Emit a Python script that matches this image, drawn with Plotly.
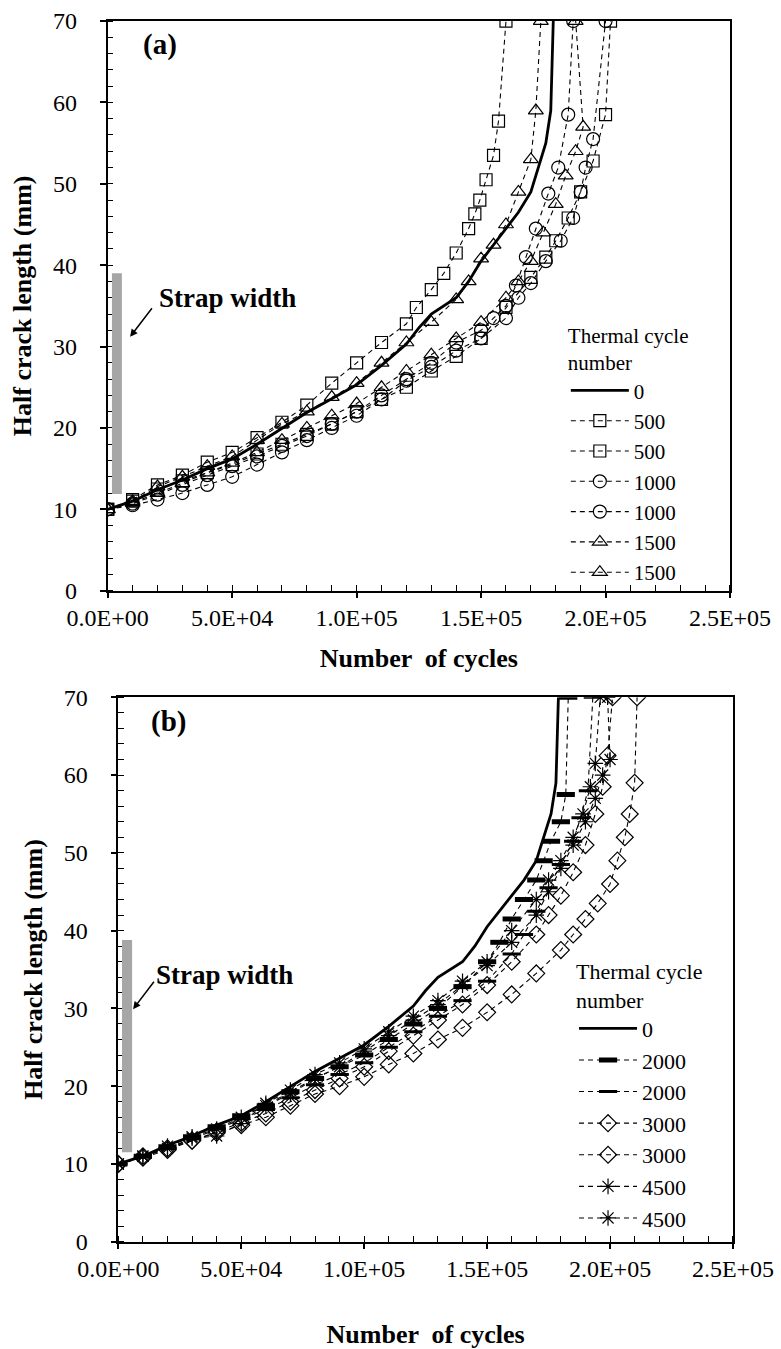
import plotly.graph_objects as go

# ---------------- data (x in cycles, y in mm) ----------------
x_ticks = [0, 50000, 100000, 150000, 200000, 250000]
x_tick_text = ["0.0E+00", "5.0E+04", "1.0E+05", "1.5E+05", "2.0E+05", "2.5E+05"]

ref0_x = [0, 10e3, 20e3, 30e3, 40e3, 50e3, 60e3, 70e3, 80e3, 90e3, 100e3, 110e3, 120e3, 125e3, 130e3, 140e3,
          145e3, 150e3, 155e3, 160e3, 165e3, 170e3, 173e3, 176e3, 178e3, 179e3]
ref0_y = [10, 11, 12.4, 13.6, 15, 16.2, 18, 20, 21.9, 23.6, 25.3, 27.7, 30.3, 32.3, 34, 36,
          38, 40.5, 42.5, 44.5, 46.5, 49, 52, 55, 59, 70]

a500a_x = [0, 10e3, 20e3, 30e3, 40e3, 50e3, 60e3, 70e3, 80e3, 90e3, 100e3, 110e3, 120e3, 124e3, 130e3, 135e3,
           140e3, 145e3, 147.5e3, 149.5e3, 152e3, 155e3, 157e3, 160e3]
a500a_y = [10, 11.2, 13, 14.2, 15.8, 17, 18.8, 20.7, 22.8, 25.5, 28, 30.5, 32.8, 34.8, 37, 39,
           41.5, 44.5, 46.3, 48, 50.5, 53.5, 57.7, 70]

a500b_x = [0, 10e3, 20e3, 30e3, 40e3, 50e3, 60e3, 70e3, 80e3, 90e3, 100e3, 110e3, 120e3, 130e3, 140e3, 150e3,
           160e3, 170e3, 176e3, 180e3, 185e3, 190e3, 195e3, 200e3, 202e3]
a500b_y = [10, 11, 12.5, 13.5, 14.5, 15.5, 16.8, 18, 19.2, 20.5, 22, 23.5, 25, 27, 28.8, 31,
           34.8, 38.5, 41, 43, 45.8, 49, 52.8, 58.5, 70]

a1000a_x = [0, 10e3, 20e3, 30e3, 40e3, 50e3, 60e3, 70e3, 80e3, 90e3, 100e3, 110e3, 120e3, 130e3, 140e3, 150e3,
            155e3, 160e3, 164e3, 168e3, 172e3, 177e3, 181e3, 185e3, 187e3]
a1000a_y = [10, 10.7, 11.8, 13, 14.2, 15.3, 16.5, 17.8, 19, 20.5, 22, 24, 26, 28, 30.5, 32,
            33.5, 35, 37.5, 41, 44.5, 48.8, 52, 58.5, 70]

a1000b_x = [0, 10e3, 20e3, 30e3, 40e3, 50e3, 60e3, 70e3, 80e3, 90e3, 100e3, 110e3, 120e3, 130e3, 140e3, 150e3,
            160e3, 165e3, 170e3, 176e3, 182e3, 187e3, 190e3, 192e3, 195e3, 200e3]
a1000b_y = [10, 10.5, 11.2, 12, 13, 14, 15.5, 17, 18.5, 20, 21.5, 23.5, 25.8, 27.5, 29.5, 31,
            33.5, 36, 37.8, 40.5, 43, 45.8, 49, 52, 55.5, 70]

a1500a_x = [0, 10e3, 20e3, 30e3, 40e3, 50e3, 60e3, 70e3, 80e3, 90e3, 100e3, 110e3, 120e3, 130e3, 140e3, 145e3,
            150e3, 155e3, 160e3, 165e3, 170e3, 172e3, 174e3]
a1500a_y = [10, 11, 12.8, 14, 15.3, 16.5, 18.5, 20.5, 22, 23.8, 25.5, 28, 30.5, 33, 35.8, 38,
            40.8, 42.5, 45, 49, 53, 59, 70]

a1500b_x = [0, 10e3, 20e3, 30e3, 40e3, 50e3, 60e3, 70e3, 80e3, 90e3, 100e3, 110e3, 120e3, 130e3, 140e3, 150e3,
            160e3, 165e3, 170e3, 175e3, 180e3, 184e3, 188e3, 191e3, 188e3]
a1500b_y = [10, 10.8, 12, 13.2, 14.5, 15.7, 17, 18.5, 20, 21.5, 23, 25, 27, 29, 31, 33,
            36, 38, 40.5, 44, 47.5, 51, 54, 57, 70]

b2000a_x = [0, 10e3, 20e3, 30e3, 40e3, 50e3, 60e3, 70e3, 80e3, 90e3, 100e3, 110e3, 120e3, 130e3, 140e3, 150e3,
            155e3, 160e3, 165e3, 170e3, 173e3, 176e3, 180e3, 182e3, 183e3]
b2000a_y = [10, 11, 12.2, 13.5, 14.8, 16.2, 17.5, 19.3, 21, 22.5, 24, 26, 28, 30, 32.8, 36,
            38.5, 41.5, 44, 46.5, 49, 51.5, 54, 57.5, 70]

b2000b_x = [0, 10e3, 20e3, 30e3, 40e3, 50e3, 60e3, 70e3, 80e3, 90e3, 100e3, 110e3, 120e3, 130e3, 140e3, 150e3,
            160e3, 165e3, 170e3, 175e3, 180e3, 185e3, 188e3, 191e3, 193e3]
b2000b_y = [10, 11, 12, 13.2, 14.5, 15.8, 17, 18.5, 20.2, 21.5, 23, 25, 27, 29, 31, 33.5,
            37, 39.5, 42.5, 45.5, 48.5, 51.5, 54.5, 58, 70]

b3000a_x = [0, 10e3, 20e3, 30e3, 40e3, 50e3, 60e3, 70e3, 80e3, 90e3, 100e3, 110e3, 120e3, 130e3, 140e3, 150e3,
            160e3, 170e3, 180e3, 185e3, 190e3, 195e3, 200e3, 203e3, 206e3, 208e3, 210e3, 211e3]
b3000a_y = [10, 11, 12, 13, 14, 15, 16, 17.5, 19, 20, 21.2, 22.8, 24.2, 26, 27.5, 29.5,
            31.8, 34.5, 37.5, 39.5, 41.5, 43.5, 46, 49, 52, 55, 59, 70]

b3000b_x = [0, 10e3, 20e3, 30e3, 40e3, 50e3, 60e3, 70e3, 80e3, 90e3, 100e3, 110e3, 120e3, 130e3, 140e3, 150e3,
            160e3, 170e3, 175e3, 180e3, 185e3, 190e3, 194e3, 197e3, 199e3, 201e3]
b3000b_y = [10, 10.8, 11.8, 13, 14.2, 15.3, 16.5, 18, 19.5, 21, 22.5, 24.5, 26.5, 28.5, 30.5, 33,
            36, 39.5, 42, 44.5, 47.5, 51, 55, 58.5, 62.5, 70]

b4500a_x = [0, 10e3, 20e3, 30e3, 40e3, 50e3, 60e3, 70e3, 80e3, 90e3, 100e3, 110e3, 120e3, 130e3, 140e3, 150e3,
            160e3, 170e3, 175e3, 180e3, 185e3, 189e3, 192e3, 194e3, 196e3]
b4500a_y = [10, 11, 12, 13.3, 13.6, 15.2, 17.8, 19.5, 21.5, 23, 24.8, 27, 29, 31, 33.5, 36,
            40, 44, 46.5, 49, 52, 55, 58.5, 61.5, 70]

b4500b_x = [0, 10e3, 20e3, 30e3, 40e3, 50e3, 60e3, 70e3, 80e3, 90e3, 100e3, 110e3, 120e3, 130e3, 140e3, 150e3,
            160e3, 170e3, 175e3, 180e3, 185e3, 190e3, 194e3, 197e3, 200e3, 199e3]
b4500b_y = [10, 11, 12.3, 13.5, 14.5, 16, 17.5, 19, 21, 22.5, 24.5, 26.5, 28.5, 30.5, 33, 35.5,
            38.5, 42, 45, 48, 51, 54, 57, 60, 62, 70]

FONT = "Times New Roman, Liberation Serif, Tinos, serif"
BLACK = "#000000"
DASH = "5px,4px"

fig = go.Figure()


def add_series(x, y, name, xa, ya, legend, solid=False, symbol=None, msize=11, mlw=1.2):
    if solid:
        fig.add_trace(go.Scatter(x=x, y=y, name=name, mode="lines", xaxis=xa, yaxis=ya, legend=legend,
                                 line=dict(color=BLACK, width=2.8)))
    else:
        fig.add_trace(go.Scatter(x=x, y=y, name=name, mode="lines+markers", xaxis=xa, yaxis=ya, legend=legend,
                                 line=dict(color=BLACK, width=1.1, dash=DASH),
                                 marker=dict(symbol=symbol, size=msize, color=BLACK,
                                             line=dict(color=BLACK, width=mlw))))


# panel (a)
add_series(ref0_x, ref0_y, "0", "x", "y", "legend", solid=True)
add_series(a500a_x, a500a_y, "500", "x", "y", "legend", symbol="square-open", msize=12)
add_series(a500b_x, a500b_y, "500", "x", "y", "legend", symbol="square-open", msize=12)
add_series(a1000a_x, a1000a_y, "1000", "x", "y", "legend", symbol="circle-open", msize=13)
add_series(a1000b_x, a1000b_y, "1000", "x", "y", "legend", symbol="circle-open", msize=13)
add_series(a1500a_x, a1500a_y, "1500", "x", "y", "legend", symbol="triangle-up-open", msize=13)
add_series(a1500b_x, a1500b_y, "1500", "x", "y", "legend", symbol="triangle-up-open", msize=13)

# panel (b)
add_series(ref0_x, ref0_y, "0", "x2", "y2", "legend2", solid=True)
add_series(b2000a_x, b2000a_y, "2000", "x2", "y2", "legend2", symbol="line-ew-open", msize=13, mlw=5)
add_series(b2000b_x, b2000b_y, "2000", "x2", "y2", "legend2", symbol="line-ew-open", msize=13, mlw=3)
add_series(b3000a_x, b3000a_y, "3000", "x2", "y2", "legend2", symbol="diamond-open", msize=13)
add_series(b3000b_x, b3000b_y, "3000", "x2", "y2", "legend2", symbol="diamond-open", msize=13)
add_series(b4500a_x, b4500a_y, "4500", "x2", "y2", "legend2", symbol="asterisk-open", msize=13)
add_series(b4500b_x, b4500b_y, "4500", "x2", "y2", "legend2", symbol="asterisk-open", msize=13)

tickfont = dict(family=FONT, size=24, color=BLACK)
titlefont = dict(family=FONT, size=26, color=BLACK)
legfont_a = dict(family=FONT, size=21, color=BLACK)
legfont_b = dict(family=FONT, size=22, color=BLACK)

xcommon = dict(range=[0, 250000], tickvals=x_ticks, ticktext=x_tick_text, ticks="outside", ticklen=5,
               tickwidth=1.5, tickcolor=BLACK, showline=True, linecolor=BLACK, linewidth=1.6, mirror=True,
               showgrid=False, zeroline=False, tickfont=tickfont, automargin=False, ticklabelstandoff=0,
               minor=dict(dtick=10000, ticks="inside", ticklen=6, tickwidth=1.3, tickcolor=BLACK, showgrid=False))
ycommon = dict(range=[0, 70], dtick=10, ticks="outside", ticklen=6, tickwidth=1.5, tickcolor=BLACK,
               showline=True, linecolor=BLACK, linewidth=1.6, mirror=True, showgrid=False, zeroline=False,
               tickfont=tickfont, ticklabelstandoff=18, automargin=False,
               minor=dict(dtick=2, ticks="inside", ticklen=6, tickwidth=1.3, tickcolor=BLACK, showgrid=False))

xt = "<b>Number  of cycles</b>"
yt = "<b>Half crack length (mm)</b>"

fig.update_layout(
    width=781, height=1349,
    margin=dict(l=0, r=0, t=0, b=0),
    paper_bgcolor="white", plot_bgcolor="white",
    font=dict(family=FONT, color=BLACK),
    xaxis=dict(xcommon, domain=[0.1379, 0.9347], anchor="y",
               title=dict(text=xt, font=titlefont, standoff=18)),
    yaxis=dict(ycommon, domain=[0.5621, 0.9844], anchor="x",
               title=dict(text=yt, font=titlefont, standoff=14)),
    xaxis2=dict(xcommon, domain=[0.1515, 0.9385], anchor="y2",
                title=dict(text=xt, font=titlefont, standoff=45)),
    yaxis2=dict(ycommon, domain=[0.0795, 0.4831], anchor="x2",
                title=dict(text=yt, font=titlefont, standoff=14)),
    legend=dict(x=0.7245, y=0.766, xanchor="left", yanchor="top", bgcolor="rgba(0,0,0,0)",
                font=legfont_a, tracegroupgap=0, itemwidth=58,
                title=dict(text="Thermal cycle<br>number", font=legfont_a)),
    legend2=dict(x=0.735, y=0.2955, xanchor="left", yanchor="top", bgcolor="rgba(0,0,0,0)",
                 font=legfont_b, tracegroupgap=0, itemwidth=58,
                 title=dict(text="Thermal cycle<br>number", font=legfont_b)),
    showlegend=True,
)

# strap-width bars
fig.add_shape(type="rect", xref="x", yref="y", x0=1700, x1=5700, y0=11.9, y1=39,
              fillcolor="#a6a6a6", line=dict(width=0))
fig.add_shape(type="rect", xref="x2", yref="y2", x0=1500, x1=5600, y0=11.5, y1=38.8,
              fillcolor="#a6a6a6", line=dict(width=0))

lab = dict(family=FONT, size=27, color=BLACK)
panel_lab = dict(family=FONT, size=29, color=BLACK)
fig.add_annotation(text="<b>(a)</b>", xref="paper", yref="paper", x=160 / 781, y=1 - 45 / 1349,
                   xanchor="center", yanchor="middle", showarrow=False, font=panel_lab)
fig.add_annotation(text="<b>(b)</b>", xref="paper", yref="paper", x=168 / 781, y=1 - 722 / 1349,
                   xanchor="center", yanchor="middle", showarrow=False, font=panel_lab)
fig.add_annotation(text="<b>Strap width</b>", xref="x", yref="y", x=48300, y=36.0, showarrow=False, font=lab)
fig.add_annotation(text="<b>Strap width</b>", xref="x2", yref="y2", x=43300, y=34.3, showarrow=False, font=lab)
fig.add_annotation(text="", xref="x", yref="y", x=9000, y=31.2, ax=23, ay=-30, showarrow=True,
                   arrowhead=2, arrowsize=1, arrowwidth=1.5, arrowcolor=BLACK)
fig.add_annotation(text="", xref="x2", yref="y2", x=6000, y=29.9, ax=22, ay=-29, showarrow=True,
                   arrowhead=2, arrowsize=1, arrowwidth=1.5, arrowcolor=BLACK)

fig.write_html("out.html", config={"displayModeBar": False},
               post_script="document.body.style.margin='0px';document.body.style.padding='0px';")
